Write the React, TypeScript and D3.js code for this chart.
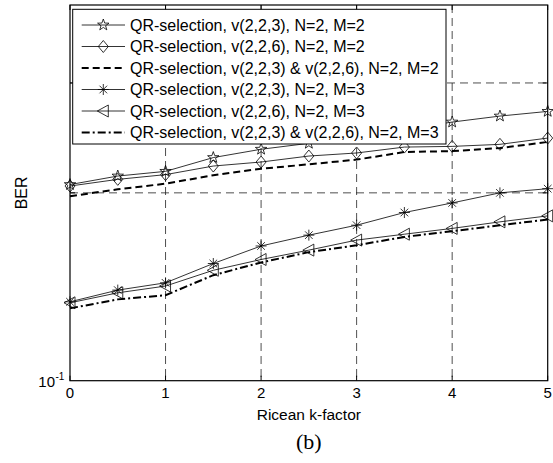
import React from "react";
import * as d3 from "d3";

// Ricean k-factor on the x axis
const kFactor = [0, 0.5, 1, 1.5, 2, 2.5, 3, 3.5, 4, 4.5, 5];

// BER
const berQr223M2 = [0.2062, 0.2128, 0.2165, 0.2278, 0.2349, 0.2401, 0.2464, 0.2527, 0.2597, 0.2655, 0.2701];
const berQr226M2 = [0.2051, 0.2102, 0.2139, 0.2208, 0.2241, 0.2291, 0.2317, 0.2368, 0.2374, 0.2392, 0.2448];
const berQrBothM2 = [0.1975, 0.2026, 0.2069, 0.2134, 0.2186, 0.2222, 0.2261, 0.2325, 0.2333, 0.2359, 0.2413];
const berQr223M3 = [0.1338, 0.1397, 0.1435, 0.1541, 0.1644, 0.1711, 0.1775, 0.186, 0.1927, 0.2, 0.2031];
const berQr226M3 = [0.1333, 0.1383, 0.1418, 0.1503, 0.1564, 0.1619, 0.168, 0.1717, 0.1754, 0.1797, 0.1837];
const berQrBothM3 = [0.1306, 0.135, 0.1371, 0.1476, 0.1547, 0.1607, 0.1648, 0.17, 0.1736, 0.1775, 0.1812];

const legendLabels = [
	"QR-selection, v(2,2,3), N=2, M=2",
	"QR-selection, v(2,2,6), N=2, M=2",
	"QR-selection, v(2,2,3) & v(2,2,6), N=2, M=2",
	"QR-selection, v(2,2,3), N=2, M=3",
	"QR-selection, v(2,2,6), N=2, M=3",
	"QR-selection, v(2,2,3) & v(2,2,6), N=2, M=3",
];

const xTicks = [0, 1, 2, 3, 4, 5];
const yGridValues = [0.2, 0.3];

type Marker = "star" | "diamond" | "asterisk" | "triangle" | null;

const series: { values: number[]; marker: Marker; dash: string | null; width: number }[] = [
	{ values: berQr223M2, marker: "star", dash: null, width: 0.8 },
	{ values: berQr226M2, marker: "diamond", dash: null, width: 0.8 },
	{ values: berQrBothM2, marker: null, dash: "7,4", width: 2 },
	{ values: berQr223M3, marker: "asterisk", dash: null, width: 0.8 },
	{ values: berQr226M3, marker: "triangle", dash: null, width: 0.8 },
	{ values: berQrBothM3, marker: null, dash: "8,3,2,3", width: 2 },
];

const font = "'Liberation Sans', Arial, sans-serif";

function markerPath(type: Marker): string {
	if (type === "star") {
		const pts: string[] = [];
		for (let i = 0; i < 10; i++) {
			const r = i % 2 === 0 ? 6 : 2.4;
			const a = -Math.PI / 2 + (i * Math.PI) / 5;
			pts.push(`${(r * Math.cos(a)).toFixed(2)},${(r * Math.sin(a)).toFixed(2)}`);
		}
		return "M" + pts.join("L") + "Z";
	}
	if (type === "diamond") return "M0,-6L5,0L0,6L-5,0Z";
	if (type === "triangle") return "M-6,0L5,-6L5,6Z";
	if (type === "asterisk") {
		const d = 3.8;
		return `M0,-5.5V5.5M-5.5,0H5.5M${-d},${-d}L${d},${d}M${-d},${d}L${d},${-d}`;
	}
	return "";
}

const App: React.FC = () => {
	const width = 553;
	const height = 463;
	const left = 70;
	const right = 547.7;
	const top = 5;
	const bottom = 380.7;

	const x = d3.scaleLinear().domain([0, 5]).range([left, right]);
	const y = d3.scaleLog().domain([0.1, 0.4]).range([bottom, top]);

	const line = d3
		.line<number>()
		.x((_, i) => x(kFactor[i]))
		.y((d) => y(d));

	const legX = 72.7;
	const legY = 9.3;
	const legW = 373.3;
	const legH = 134.7;
	const rowY = (i: number) => 25 + i * 21.5;

	return (
		<svg
			width={width}
			height={height}
			style={{ position: "absolute", left: 0, top: 0, background: "#fff" }}
		>
			{/* grid */}
			{xTicks.slice(1, -1).map((t) => (
				<line key={"gx" + t} x1={x(t)} x2={x(t)} y1={top} y2={bottom} stroke="#222" strokeWidth={0.8} strokeDasharray="8,5" />
			))}
			{yGridValues.map((v) => (
				<line key={"gy" + v} x1={left} x2={right} y1={y(v)} y2={y(v)} stroke="#222" strokeWidth={0.8} strokeDasharray="8,5" />
			))}

			{/* series */}
			{series.map((s, i) => (
				<g key={"s" + i}>
					<path
						d={line(s.values) || ""}
						fill="none"
						stroke="#000"
						strokeWidth={s.width}
						strokeDasharray={s.dash || undefined}
					/>
					{s.marker &&
						s.values.map((v, j) => (
							<path
								key={j}
								d={markerPath(s.marker)}
								transform={`translate(${x(kFactor[j])},${y(v)})`}
								fill="none"
								stroke="#000"
								strokeWidth={0.8}
							/>
						))}
				</g>
			))}

			{/* axes box */}
			<rect x={left} y={top} width={right - left} height={bottom - top} fill="none" stroke="#000" strokeWidth={1.2} />
			{xTicks.map((t) => (
				<g key={"xt" + t}>
					<line x1={x(t)} x2={x(t)} y1={bottom} y2={bottom - 5} stroke="#000" />
					<line x1={x(t)} x2={x(t)} y1={top} y2={top + 5} stroke="#000" />
					<text x={x(t)} y={398} textAnchor="middle" fontFamily={font} fontSize={15}>
						{t}
					</text>
				</g>
			))}
			{yGridValues.map((v) => (
				<g key={"yt" + v}>
					<line x1={left} x2={left + 5} y1={y(v)} y2={y(v)} stroke="#000" />
					<line x1={right} x2={right - 5} y1={y(v)} y2={y(v)} stroke="#000" />
				</g>
			))}
			<text x={55} y={387} textAnchor="end" fontFamily={font} fontSize={15}>
				10
			</text>
			<text x={55.5} y={380} fontFamily={font} fontSize={10}>
				-1
			</text>

			{/* axis labels */}
			<text x={(left + right) / 2} y={420} textAnchor="middle" fontFamily={font} fontSize={15.5}>
				Ricean k-factor
			</text>
			<text
				transform={`translate(26.7,${(top + bottom) / 2}) rotate(-90)`}
				textAnchor="middle"
				fontFamily={font}
				fontSize={16}
			>
				BER
			</text>
			<text x={(left + right) / 2} y={449} textAnchor="middle" fontFamily="'Liberation Serif', 'Times New Roman', serif" fontSize={22}>
				(b)
			</text>

			{/* legend */}
			<rect x={legX} y={legY} width={legW} height={legH} fill="#fff" stroke="#000" strokeWidth={1} />
			{series.map((s, i) => (
				<g key={"l" + i}>
					<line
						x1={81.7}
						x2={125}
						y1={rowY(i)}
						y2={rowY(i)}
						stroke="#000"
						strokeWidth={s.width}
						strokeDasharray={s.dash || undefined}
					/>
					{s.marker && (
						<path d={markerPath(s.marker)} transform={`translate(103.3,${rowY(i)})`} fill="none" stroke="#000" strokeWidth={0.8} />
					)}
					<text x={130} y={rowY(i) + 5.5} fontFamily={font} fontSize={16}>
						{legendLabels[i]}
					</text>
				</g>
			))}
		</svg>
	);
};

export default App;
